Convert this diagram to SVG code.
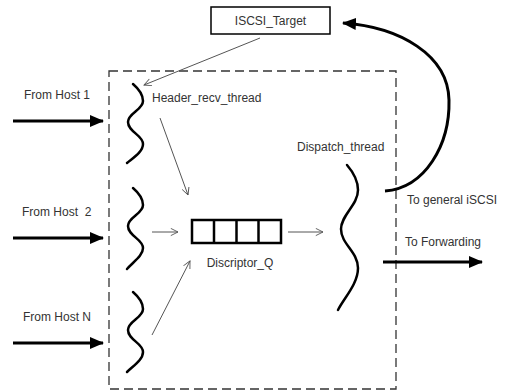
<svg xmlns="http://www.w3.org/2000/svg" width="505" height="392" viewBox="0 0 505 392">
<defs>
<style>
text{font-family:"Liberation Sans",Arial,sans-serif;font-size:12px;fill:#333;white-space:pre}
.thick{stroke:#000;stroke-width:3;fill:none}
.thin{stroke:#555;stroke-width:1;fill:none}
.thread{stroke:#000;stroke-width:2.5;fill:none;stroke-linecap:round}
</style>
<marker id="big" viewBox="0 0 14 12" refX="13" refY="6" markerWidth="14" markerHeight="12" markerUnits="userSpaceOnUse" orient="auto">
<path d="M0,0 L14,6 L0,12 Z" fill="#000"/>
</marker>
<marker id="open" viewBox="0 0 10 10" refX="9" refY="5" markerWidth="9" markerHeight="9" markerUnits="userSpaceOnUse" orient="auto">
<path d="M1,1 L9,5 L1,9" fill="none" stroke="#555" stroke-width="1"/>
</marker>
</defs>
<rect x="0" y="0" width="505" height="392" fill="#fff"/>
<rect id="boundary" x="109" y="71" width="287" height="318" fill="none" stroke="#333" stroke-width="1.3" stroke-dasharray="9,5"/>
<g id="iscsi_target">
<rect x="211" y="7" width="119" height="27" fill="#fff" stroke="#000" stroke-width="1.5"/>
<text x="270.5" y="25" text-anchor="middle">ISCSI_Target</text>
</g>
<g id="host1"><text x="24" y="99">From Host 1</text></g>
<g id="host2"><text x="22" y="216">From Host  2</text></g>
<g id="hostN"><text x="23" y="321">From Host N</text></g>
<g id="header_thread_1">
<path class="thread" d="M133,84 C140,90 143,95 143,101 C143,110 128,113 128,122 C128,132 143,135 143,144 C143,152 133,158 127,163"/>
<text x="152" y="102">Header_recv_thread</text>
</g>
<g id="header_thread_2">
<path class="thread" transform="translate(0,104)" d="M133,84 C140,90 143,95 143,101 C143,110 128,113 128,122 C128,132 143,135 143,144 C143,152 133,158 127,165"/>
</g>
<g id="header_thread_N">
<path class="thread" transform="translate(0,208)" d="M133,84 C140,90 143,95 143,101 C143,110 128,113 128,122 C128,132 143,135 143,144 C143,152 133,158 127,164"/>
</g>
<g id="discriptor_q">
<rect x="192" y="220" width="89" height="23" fill="#fff" stroke="#000" stroke-width="2.5"/>
<line x1="214" y1="220" x2="214" y2="243" stroke="#000" stroke-width="2.5"/>
<line x1="236.5" y1="220" x2="236.5" y2="243" stroke="#000" stroke-width="2.5"/>
<line x1="258.5" y1="220" x2="258.5" y2="243" stroke="#000" stroke-width="2.5"/>
<text x="240" y="267" text-anchor="middle">Discriptor_Q</text>
</g>
<g id="dispatch_thread">
<path class="thread" d="M347,165 C353,172 358,180 358,190 C358,205 341,215 341,229 C341,244 358,252 358,268 C358,284 344,298 338,310"/>
<text x="297" y="151">Dispatch_thread</text>
</g>
<g id="labels">
<text x="407" y="204">To general iSCSI</text>
<text x="405" y="246">To Forwarding</text>
</g>
<g id="connectors">
<line class="thick" x1="13" y1="121" x2="103" y2="121" marker-end="url(#big)"/>
<line class="thick" x1="13" y1="238" x2="103" y2="238" marker-end="url(#big)"/>
<line class="thick" x1="13" y1="343" x2="103" y2="343" marker-end="url(#big)"/>
<line class="thick" x1="383" y1="262" x2="482" y2="262" marker-end="url(#big)"/>
<path class="thick" d="M385,191 C425,188 450,145 449,100 C448,55 400,27 343,23" marker-end="url(#big)"/>
<line class="thin" x1="260" y1="38" x2="144" y2="85" marker-end="url(#open)"/>
<line class="thin" x1="160" y1="118" x2="188" y2="195" marker-end="url(#open)"/>
<line class="thin" x1="152" y1="232" x2="178" y2="232" marker-end="url(#open)"/>
<line class="thin" x1="152" y1="335" x2="190" y2="261" marker-end="url(#open)"/>
<line class="thin" x1="288" y1="232" x2="323" y2="232" marker-end="url(#open)"/>
</g>
</svg>
